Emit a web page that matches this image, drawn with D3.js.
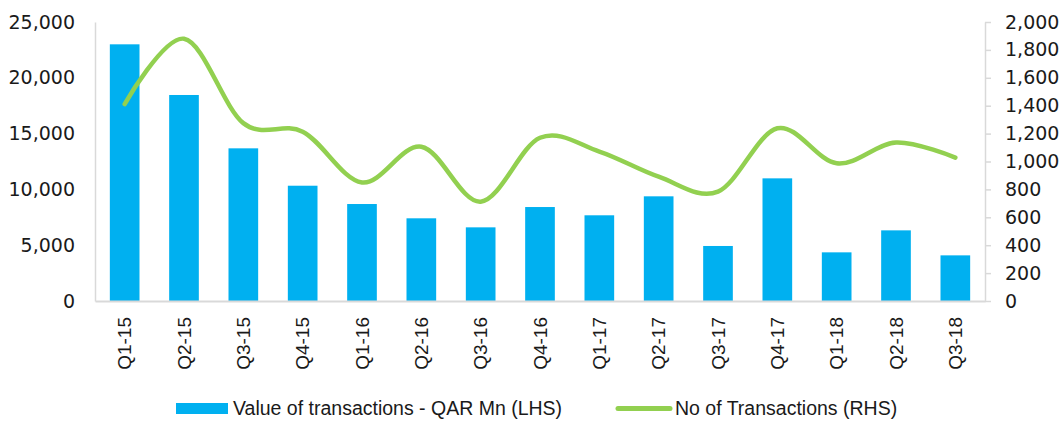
<!DOCTYPE html>
<html>
<head>
<meta charset="utf-8">
<script src="https://cdn.jsdelivr.net/npm/d3@7"></script>
<style>
  html, body { margin: 0; padding: 0; background: #fff; }
  svg { display: block; }
</style>
</head>
<body>
<div id="chart"></div>
<script>
// Value vs number of transactions, quarterly

const QUARTERS = ["Q1-15","Q2-15","Q3-15","Q4-15","Q1-16","Q2-16","Q3-16","Q4-16",
  "Q1-17","Q2-17","Q3-17","Q4-17","Q1-18","Q2-18","Q3-18"];

// QAR Mn (LHS)
const VALUE_QAR = [23000, 18460, 13680, 10330, 8690, 7410, 6600, 8420,
  7680, 9380, 4930, 10990, 4360, 6330, 4090];

// count (RHS)
const NUM_TX = [1412, 1880, 1275, 1214, 850, 1106, 712, 1170,
  1071, 891, 784, 1238, 987, 1136, 1028];

const LEFT_TICKS = [0, 5000, 10000, 15000, 20000, 25000];
const RIGHT_TICKS = [0, 200, 400, 600, 800, 1000, 1200, 1400, 1600, 1800, 2000];

const LEGEND_BAR = "Value of transactions - QAR Mn (LHS)";
const LEGEND_LINE = "No of Transactions (RHS)";

const width = 1062, height = 421;
const plot = { left: 95, right: 985, top: 22, bottom: 301 };

const BLUE = "#00B0F0";
const GREEN = "#92D050";
const AXIS = "#d9d9d9";

const svg = d3.select("#chart").append("svg")
  .attr("width", width)
  .attr("height", height);

const x = d3.scaleBand()
  .domain(QUARTERS)
  .range([plot.left, plot.right])
  .paddingInner(0.5)
  .paddingOuter(0.25);

const yL = d3.scaleLinear().domain([0, 25000]).range([plot.bottom, plot.top]);
const yR = d3.scaleLinear().domain([0, 2000]).range([plot.bottom, plot.top]);

const fmt = d3.format(",");

// bars
svg.append("g")
  .selectAll("rect")
  .data(QUARTERS)
  .enter().append("rect")
  .attr("x", d => x(d))
  .attr("width", x.bandwidth())
  .attr("y", (d, i) => yL(VALUE_QAR[i]))
  .attr("height", (d, i) => plot.bottom - yL(VALUE_QAR[i]))
  .attr("fill", BLUE);

// left axis
const gL = svg.append("g")
  .attr("transform", `translate(${plot.left},0)`)
  .call(d3.axisLeft(yL).tickValues(LEFT_TICKS).tickFormat(fmt).tickSize(0).tickPadding(20));
gL.select(".domain").attr("stroke", AXIS).attr("stroke-width", 1.5);
gL.selectAll("text")
  .attr("font-family", "DejaVu Sans")
  .attr("font-size", 19)
  .attr("fill", "#1a1a1a");

// right axis
const gR = svg.append("g")
  .attr("transform", `translate(${plot.right},0)`)
  .call(d3.axisRight(yR).tickValues(RIGHT_TICKS).tickFormat(fmt).tickSizeInner(6).tickSizeOuter(0).tickPadding(14));
gR.select(".domain").attr("stroke", AXIS).attr("stroke-width", 1.5);
gR.selectAll(".tick line").attr("stroke", AXIS).attr("stroke-width", 1.5);
gR.selectAll("text")
  .attr("font-family", "DejaVu Sans")
  .attr("font-size", 19)
  .attr("fill", "#1a1a1a");

// bottom axis
const gB = svg.append("g")
  .attr("transform", `translate(0,${plot.bottom})`)
  .call(d3.axisBottom(x).tickSize(0).tickSizeOuter(0));
gB.select(".domain").attr("stroke", AXIS).attr("stroke-width", 2);
gB.selectAll("text")
  .attr("font-family", "Liberation Sans, Arial")
  .attr("font-size", 19)
  .attr("fill", "#1a1a1a")
  .attr("text-anchor", "end")
  .attr("transform", "rotate(-90)")
  .attr("x", -16)
  .attr("y", 0)
  .attr("dy", "0.35em");

// line
const line = d3.line()
  .x((d, i) => x(QUARTERS[i]) + x.bandwidth() / 2)
  .y(d => yR(d))
  .curve(d3.curveCardinal.tension(0));

svg.append("path")
  .datum(NUM_TX)
  .attr("d", line)
  .attr("fill", "none")
  .attr("stroke", GREEN)
  .attr("stroke-width", 4.5)
  .attr("stroke-linecap", "round")
  .attr("stroke-linejoin", "round");

// legend
const lg = svg.append("g")
  .attr("font-family", "Liberation Sans, Arial")
  .attr("font-size", 19.5)
  .attr("fill", "#1a1a1a");
lg.append("rect").attr("x", 176).attr("y", 403).attr("width", 52).attr("height", 11).attr("fill", BLUE);
lg.append("text").attr("x", 233).attr("y", 415).text(LEGEND_BAR);
lg.append("line").attr("x1", 618).attr("x2", 670).attr("y1", 408.5).attr("y2", 408.5)
  .attr("stroke", GREEN).attr("stroke-width", 5).attr("stroke-linecap", "round");
lg.append("text").attr("x", 675).attr("y", 415).text(LEGEND_LINE);
</script>
</body>
</html>
